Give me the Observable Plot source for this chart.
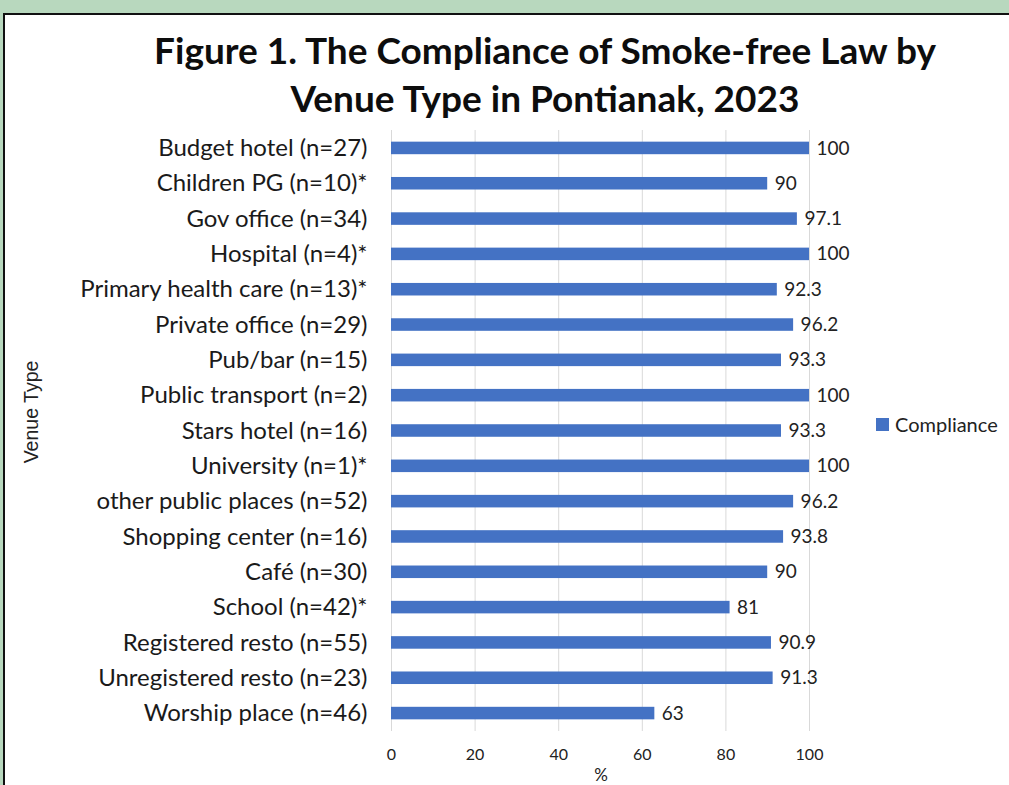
<!DOCTYPE html>
<html>
<head>
<meta charset="utf-8">
<script src="https://cdn.jsdelivr.net/npm/d3@7"></script>
<script src="https://cdn.jsdelivr.net/npm/@observablehq/plot@0.6"></script>
<style>
  html, body { margin: 0; padding: 0; }
  body { width: 1009px; height: 785px; overflow: hidden; background: #b8d8be; font-family: Lato, "Open Sans", sans-serif; }
  #wrap { position: relative; width: 1009px; height: 785px; overflow: hidden; }
  #panel { position: absolute; left: 3px; top: 13px; width: 1100px; height: 900px; background: #fff; border: 2px solid #111; box-sizing: border-box; }
  .title { position: absolute; left: 0; width: 1090px; text-align: center; font-weight: 700; font-size: 37px; color: #0d0d0d; line-height: 1; white-space: nowrap; }
  #chart { position: absolute; left: 0; top: 0; }
  #ylab { position: absolute; left: 32px; top: 412px; transform: translate(-50%, -50%) rotate(-90deg); font-family: "Liberation Sans", Arial, sans-serif; font-size: 19.5px; line-height: 1; color: #222; white-space: nowrap; }
  #xlab { position: absolute; left: 601px; top: 766px; font-size: 17px; line-height: 1; color: #222; transform: translateX(-50%); }
  #legend { position: absolute; left: 876px; top: 424px; transform: translateY(-50%); display: flex; align-items: center; font-size: 20px; line-height: 1; color: #222; white-space: nowrap; }
  #legend span.sw { display: inline-block; width: 13px; height: 13px; background: #4472c4; margin-right: 6px; }
</style>
</head>
<body>
<div id="wrap">
  <div id="panel"></div>
  <div class="title" style="top:31px">Figure 1. The Compliance of Smoke-free Law by</div>
  <div class="title" style="top:79px">Venue Type in Pontianak, 2023</div>
  <div id="chart"></div>
  <div id="ylab">Venue Type</div>
  <div id="xlab">%</div>
  <div id="legend"><span class="sw"></span>Compliance</div>
</div>
<script>
const venues = [
  "Budget hotel (n=27)",
  "Children PG (n=10)*",
  "Gov office (n=34)",
  "Hospital (n=4)*",
  "Primary health care (n=13)*",
  "Private office (n=29)",
  "Pub/bar (n=15)",
  "Public transport (n=2)",
  "Stars hotel (n=16)",
  "University (n=1)*",
  "other public places (n=52)",
  "Shopping center (n=16)",
  "Café (n=30)",
  "School (n=42)*",
  "Registered resto (n=55)",
  "Unregistered resto (n=23)",
  "Worship place (n=46)"
];
const compliance = [100, 90, 97.1, 100, 92.3, 96.2, 93.3, 100, 93.3, 100, 96.2, 93.8, 90, 81, 90.9, 91.3, 63];
const xTicks = [0, 20, 40, 60, 80, 100];

const data = venues.map((v, i) => ({venue: v, value: compliance[i]}));

const chart = Plot.plot({
  width: 1009,
  height: 785,
  marginLeft: 391,
  marginRight: 200,
  marginTop: 130,
  marginBottom: 54,
  style: {background: "transparent", fontFamily: "Lato, 'Open Sans', sans-serif", color: "#222"},
  x: {domain: [0, 100], ticks: xTicks},
  y: {domain: venues, paddingInner: 0.645, paddingOuter: 0.33, round: false},
  marks: [
    Plot.gridX(xTicks, {stroke: "#d9d9d9", strokeOpacity: 1, strokeWidth: 1}),
    Plot.barX(data, {x: "value", y: "venue", fill: "#4472c4"}),
    Plot.text(data, {x: "value", y: "venue", text: d => String(d.value), dx: 7, textAnchor: "start", fontSize: 19, fill: "#222"}),
    Plot.axisY({tickSize: 0, tickPadding: 24, fontSize: 24, label: null, fill: "#1a1a1a"}),
    Plot.axisX({ticks: xTicks, tickSize: 0, tickPadding: 17, fontSize: 16, label: null})
  ]
});
document.getElementById("chart").appendChild(chart);
</script>
</body>
</html>
